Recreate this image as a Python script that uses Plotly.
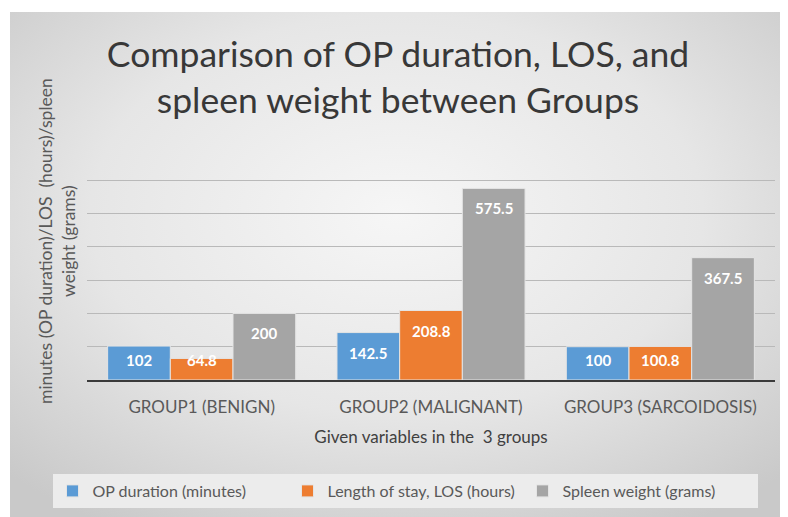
import base64
import plotly.graph_objects as go

# ---- data ----
groups = ["GROUP1 (BENIGN)", "GROUP2 (MALIGNANT)", "GROUP3 (SARCOIDOSIS)"]
op_duration = [102, 142.5, 100]
los_hours = [64.8, 208.8, 100.8]
spleen_weight = [200, 575.5, 367.5]
series_names = ["OP duration (minutes)", "Length of stay, LOS (hours)", "Spleen weight (grams)"]
series_values = [op_duration, los_hours, spleen_weight]
series_colors = ["#5B9BD5", "#ED7D31", "#A5A5A5"]

# ---- layout constants (figure is placed at an 8px page offset) ----
W, H = 780, 509
PX_L, PX_R = 79, 767          # plot area left/right in px
PX_T, PX_B = 139, 372         # plot area top/bottom in px
Y_MAX = 700
BARGAP = 0.18
FONT = "Lato"

x_dom = [PX_L / W, PX_R / W]
y_dom = [1 - PX_B / H, 1 - PX_T / H]

fig = go.Figure()
for name, vals, col in zip(series_names, series_values, series_colors):
    fig.add_trace(go.Bar(
        x=groups, y=vals, name=name,
        marker=dict(color=col, line=dict(color="#e4e4e4", width=1)),
        hoverinfo="x+y+name",
    ))

# data labels (Excel "inside end" style)
ppu = (PX_B - PX_T) / Y_MAX
offset_units = 20 / ppu
cat_w = (PX_R - PX_L) / len(groups)
bar_w = cat_w * (1 - BARGAP) / len(series_values)
annotations = []
for si, vals in enumerate(series_values):
    for g, v in zip(groups, vals):
        annotations.append(dict(
            x=g, y=max(v - offset_units, offset_units), xref="x", yref="y",
            xshift=(si - (len(series_values) - 1) / 2) * bar_w,
            text=f"<b>{v:g}</b>", showarrow=False,
            font=dict(family=FONT, size=15, color="white"),
        ))

# y axis title (as rotated annotation to match placement)
annotations.append(dict(
    text="minutes (OP duration)/LOS  (hours)/spleen<br>weight (grams)",
    x=49 / W, y=1 - 233 / H, xref="paper", yref="paper",
    xanchor="center", yanchor="middle", textangle=-90, showarrow=False,
    font=dict(family=FONT, size=17.5, color="#595959"),
))

# background gradient panel
svg = ('<svg xmlns="http://www.w3.org/2000/svg" width="773" height="505" preserveAspectRatio="none">'
       '<defs><radialGradient id="g" cx="50%" cy="40%" r="72%">'
       '<stop offset="0" stop-color="#f6f6f6"/><stop offset="0.55" stop-color="#e6e6e6"/>'
       '<stop offset="1" stop-color="#c9c9c9"/></radialGradient></defs>'
       '<rect width="100%" height="100%" fill="url(#g)"/></svg>')
src = "data:image/svg+xml;base64," + base64.b64encode(svg.encode()).decode()

fig.update_layout(
    width=W, height=H,
    margin=dict(l=0, r=0, t=0, b=0),
    paper_bgcolor="white", plot_bgcolor="rgba(0,0,0,0)",
    barmode="group", bargap=BARGAP, bargroupgap=0,
    font=dict(family=FONT, color="#595959"),
    title=dict(
        text="Comparison of OP duration, LOS, and<br>spleen weight between Groups",
        x=0.5, xanchor="center", y=1 - 59 / H, yanchor="middle",
        font=dict(family=FONT, size=35.5, color="#383838"),
    ),
    xaxis=dict(
        domain=x_dom, showgrid=False, showline=True, linecolor="#3a3a3a", linewidth=2,
        ticks="", ticklabelstandoff=11, tickfont=dict(family=FONT, size=17, color="#595959"),
        title=dict(text="Given variables in the  3 groups",
                   font=dict(family=FONT, size=17, color="#404040"), standoff=15),
        automargin=False,
    ),
    yaxis=dict(
        domain=y_dom, range=[0, Y_MAX], dtick=100, showgrid=True, gridcolor="#b9b9b9",
        gridwidth=1, showticklabels=False, zeroline=False, ticks="",
        automargin=False,
    ),
    legend=dict(
        orientation="h", x=397 / W, xanchor="center",
        y=1 - 483 / H, yanchor="middle",
        bgcolor="#ececec", font=dict(family=FONT, size=16, color="#595959"),
        itemwidth=30, entrywidth=190, traceorder="normal",
    ),
    annotations=annotations,
    images=[dict(source=src, xref="paper", yref="paper", x=2 / W, y=1 - 4 / H,
                 sizex=773 / W, sizey=505 / H, xanchor="left", yanchor="top",
                 sizing="stretch", layer="below")],
    showlegend=True,
)

fig.write_html("out.html")
